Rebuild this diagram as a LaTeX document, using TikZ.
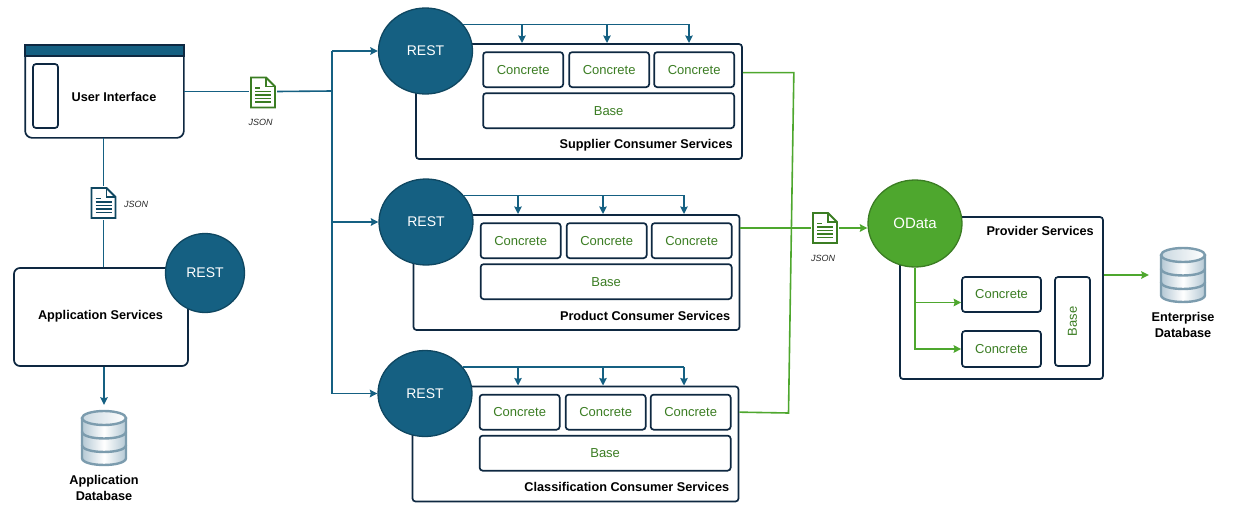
\documentclass[tikz,border=0pt]{standalone}
\usepackage{fontspec}
\setmainfont{Liberation Sans}
\usetikzlibrary{arrows.meta,calc,positioning,shapes.geometric}
\definecolor{navy}{HTML}{0E2841}
\definecolor{restblue}{HTML}{156082}
\definecolor{restedge}{HTML}{0F4761}
\definecolor{odgreen}{HTML}{4EA72E}
\definecolor{odedge}{HTML}{3B7D23}
\definecolor{dbedge}{HTML}{7C9CAE}
\definecolor{dbshade}{HTML}{B4C8D4}
\tikzset{
  frame/.style={draw=navy,line width=1.7pt,rounded corners=3pt,fill=white,inner sep=0pt},
  part/.style={frame,text=odedge,font=\fontsize{13}{15}\selectfont},
  title/.style={font=\fontsize{12.7}{15}\selectfont\bfseries,text=black,inner sep=0pt},
  jsonlabel/.style={font=\fontsize{9}{11}\selectfont\itshape,text=black!85,inner sep=0pt},
  restnode/.style={ellipse,draw=restedge,line width=1.3pt,fill=restblue,text=white,inner sep=0pt,
    minimum width=94pt,minimum height=86pt,font=\fontsize{14}{16}\selectfont},
  slot/.style={inner sep=0pt,minimum width=28pt,minimum height=34pt},
  dbslot/.style={inner sep=0pt,minimum width=46pt,minimum height=56pt},
  bluelink/.style={draw=restblue,line width=1.6pt},
  greenlink/.style={draw=odgreen,line width=1.6pt},
  pics/docicon/.style={code={
    \draw[#1,line width=1.8pt,fill=white,line join=miter]
      (-12,-15) -- (3,-15) -- (12,-6) -- (12,15) -- (-12,15) -- cycle;
    \draw[#1,line width=1.4pt] (3,-15) -- (3,-6) -- (12,-6);
    \draw[#1,line width=1.1pt] (-8,-4.5) -- (-3,-4.5);
    \foreach \y in {-1,2.5,6,9.5} {\draw[#1,line width=1.3pt] (-8,\y) -- (8,\y);}
  }},
  pics/dbicon/.style={code={
    \path[left color=dbshade,right color=dbshade,middle color=white]
      (-22,-20) -- (-22,20) .. controls (-22,29.3) and (22,29.3) .. (22,20) -- (22,-20) -- cycle;
    \draw[dbedge,line width=2.4pt]
      (-22,-20) -- (-22,20) .. controls (-22,29.3) and (22,29.3) .. (22,20) -- (22,-20);
    \foreach \y in {-6.5,7} {
      \draw[dbedge,line width=2.4pt] (-22,\y) .. controls (-22,\y+9.3) and (22,\y+9.3) .. (22,\y);
    }
    \draw[dbedge,line width=2.4pt,left color=dbshade!70,right color=white] (0,-20) ellipse [x radius=22,y radius=7];
  }}
}
\begin{document}
\begin{tikzpicture}[x=1pt,y=-1pt,>={Stealth[length=7.5pt,width=7.5pt,inset=1pt]}]
  \useasboundingbox (0,0) rectangle (1237,530);

  \node[frame,sharp corners,draw=none,fill=none,minimum width=157pt,minimum height=91pt] (ui) at (104.5,91.5) {};
  \draw[navy,line width=1.7pt,fill=white,rounded corners=7pt]
    (ui.north west) -- (ui.south west) -- (ui.south east) -- (ui.north east) -- cycle;
  \fill[restblue] (ui.north west) rectangle ($(ui.north east)+(0,11)$);
  \draw[navy,line width=1.7pt] (ui.north west) rectangle ($(ui.north east)+(0,11)$);
  \node[frame,minimum width=25pt,minimum height=64pt] (sidebar) at (45.5,96) {};
  \node[title] (uitext) at (114,96.5) {User Interface};

  \node[frame,minimum width=174pt,minimum height=98pt,rounded corners=6pt] (apps) at (101,317) {};
  \node[title] (appstext) at (100.5,316.5) {Application Services};
  \node[restnode,minimum width=79pt,minimum height=79pt] (restapp) at (205,273) {REST};

  \node[slot] (jsonapp) at (103.5,203) {};
  \pic at (jsonapp) {docicon=restedge};
  \node[jsonlabel] (jsonapptext) at (136,204) {JSON};
  \draw[bluelink] (ui.south -| jsonapp) -- (jsonapp);
  \draw[bluelink] (jsonapp) -- (apps.north -| jsonapp);

  \node[dbslot] (appdb) at (104,438) {};
  \pic at (appdb) {dbicon};
  \node[title,align=center,font=\fontsize{12.7}{15.5}\selectfont\bfseries] (appdbtext) at (104,488) {Application\\Database};
  \draw[bluelink,->] (apps.south -| appdb) -- ($(appdb.north)+(0,-5)$);

  \node[slot] (jsonui) at (263,92.5) {};
  \pic at (jsonui) {docicon=odedge};
  \node[jsonlabel] (jsonuitext) at (260.5,122) {JSON};
  \coordinate (fork) at (332,91);
  \draw[bluelink] (ui.east) -- (ui.east -| jsonui.west);
  \draw[bluelink] (ui.east -| jsonui.east) -- (fork);

  \foreach \id/\bx/\by/\rx/\ry/\ax/\cx/\dx/\label in {
      1/579/101.5/425.5/51/522/607/689/Supplier Consumer Services,
      2/576.5/272.5/426/222/518/603/684/Product Consumer Services,
      3/575.5/444/425/393.5/518/603/684/Classification Consumer Services} {
    \node[frame,minimum width=326pt,minimum height=115pt] (svc\id) at (\bx,\by) {};
    \node[part,minimum width=80pt,minimum height=35pt] (cona\id) at ($(svc\id.north west)+(108,26.5)$) {Concrete};
    \node[part,minimum width=80pt,minimum height=35pt] (conb\id) at ($(svc\id.north west)+(194,26.5)$) {Concrete};
    \node[part,minimum width=80pt,minimum height=35pt] (conc\id) at ($(svc\id.north west)+(279,26.5)$) {Concrete};
    \node[part,minimum width=251pt,minimum height=35pt] (base\id) at ($(svc\id.north west)+(193.5,67.5)$) {Base};
    \node[title,anchor=east] (title\id) at ($(svc\id.south east)+(-10,-15)$) {\label};
    \node[restnode] (rest\id) at (\rx,\ry) {REST};
    \coordinate (dropa\id) at (\ax,\by-58.5);
    \coordinate (dropb\id) at (\cx,\by-58.5);
    \coordinate (dropc\id) at (\dx,\by-58.5);
    \draw[bluelink] (rest\id.35) -- (rest\id.35 -| dropc\id);
    \foreach \k in {a,b,c} {
      \draw[bluelink,->] (rest\id.35 -| drop\k\id) -- (drop\k\id);
    }
  }

  \draw[bluelink] (fork |- rest1.west) -- (fork |- rest3.west);
  \draw[bluelink,->] (fork |- rest1.west) -- (rest1.west);
  \draw[bluelink,->] (fork |- rest2.west) -- (rest2.west);
  \draw[bluelink,->] (fork |- rest3.west) -- (rest3.west);

  \node[frame,minimum width=203pt,minimum height=162pt] (provider) at (1001.5,298) {};
  \node[title,anchor=east] (providertext) at (1094,230.5) {Provider Services};
  \node[part,minimum width=79pt,minimum height=35pt] (provcona) at (1001.5,294.5) {Concrete};
  \node[part,minimum width=79pt,minimum height=36pt] (provconb) at (1001.5,349) {Concrete};
  \node[part,minimum width=35pt,minimum height=89pt] (provbase) at (1072.5,321.5) {\rotatebox{90}{Base}};
  \node[restnode,draw=odedge,fill=odgreen,minimum width=94pt,minimum height=87pt,font=\fontsize{15}{17}\selectfont] (odata) at (915,223.5) {OData};
  \draw[greenlink,->] (odata.south) |- (provconb.west);
  \draw[greenlink,->] (odata.south |- provcona.west) ++(0,8) -- ($(provcona.west)+(0,8)$);

  \node[slot] (jsonod) at (825,228) {};
  \pic at (jsonod) {docicon=odedge};
  \node[jsonlabel] (jsonodtext) at (823,258) {JSON};
  \draw[greenlink] (svc2.east |- jsonod) -- (jsonod.west);
  \draw[greenlink,->] (jsonod.east) -- (jsonod.east -| odata.west);
  \draw[greenlink] (svc1.east |- cona1) ++(0,3) -- ++(51,0) -- (788.5,413) -- (svc3.east |- cona3);

  \node[dbslot] (entdb) at (1183,275) {};
  \pic at (entdb) {dbicon};
  \node[title,align=center,font=\fontsize{12.7}{15.5}\selectfont\bfseries] (entdbtext) at (1183,325) {Enterprise\\Database};
  \draw[greenlink,->] (provider.east |- entdb) -- ($(entdb.west)+(-11,0)$);
\end{tikzpicture}
\end{document}
